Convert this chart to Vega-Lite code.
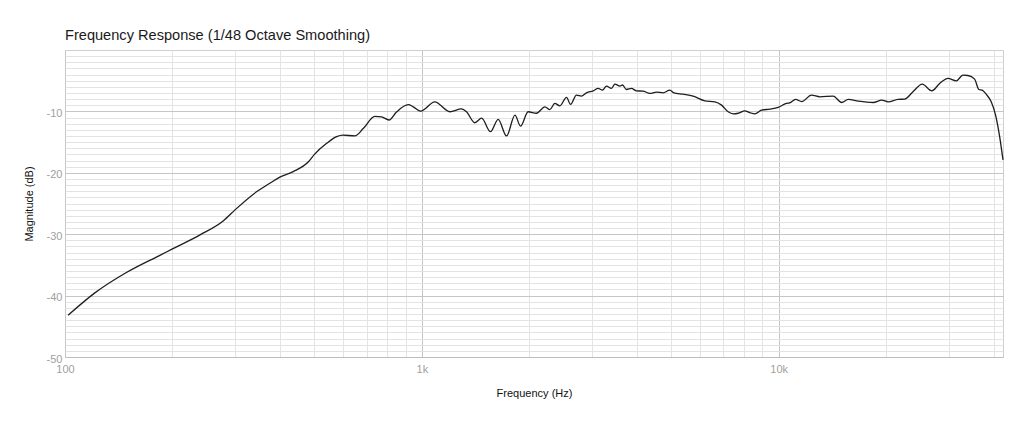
{
  "$schema": "https://vega.github.io/schema/vega-lite/v6.json",
  "width": 938,
  "height": 307,
  "autosize": {"type": "none"},
  "padding": {"left": 65, "top": 50, "right": 21, "bottom": 70},
  "background": "white",
  "title": {
    "text": "Frequency Response (1/48 Octave Smoothing)",
    "anchor": "start",
    "frame": "group",
    "font": "Liberation Sans",
    "fontSize": 14.6,
    "fontWeight": "normal",
    "color": "#1a1a1a",
    "offset": 7
  },
  "config": {
    "view": {"stroke": "#cfcfcf"},
    "axis": {
      "labelFont": "Liberation Sans",
      "titleFont": "Liberation Sans",
      "labelFontSize": 11,
      "titleFontSize": 11,
      "titleFontWeight": "normal",
      "titleColor": "#111111",
      "labelColor": "#a0a0a0",
      "labelFlush": false,
      "ticks": false
    }
  },
  "data": {
    "values": [
      {"f": 102, "db": -43.2}, {"f": 121, "db": -39.6}, {"f": 149, "db": -36.2},
      {"f": 185, "db": -33.4}, {"f": 200, "db": -32.4}, {"f": 239, "db": -30.1},
      {"f": 278, "db": -27.8}, {"f": 300, "db": -26.0}, {"f": 344, "db": -23.1},
      {"f": 375, "db": -21.7}, {"f": 400, "db": -20.7}, {"f": 436, "db": -19.8},
      {"f": 481, "db": -18.2}, {"f": 500, "db": -17.0}, {"f": 541, "db": -15.2},
      {"f": 577, "db": -14.1}, {"f": 600, "db": -13.85}, {"f": 649, "db": -14.0},
      {"f": 685, "db": -12.8}, {"f": 738, "db": -10.8}, {"f": 771, "db": -10.9},
      {"f": 809, "db": -11.4}, {"f": 849, "db": -10.1}, {"f": 916, "db": -8.9},
      {"f": 946, "db": -9.25}, {"f": 992, "db": -9.95}, {"f": 1087, "db": -8.44},
      {"f": 1198, "db": -10.06}, {"f": 1291, "db": -9.6}, {"f": 1334, "db": -10.06},
      {"f": 1407, "db": -11.85}, {"f": 1470, "db": -11.1}, {"f": 1557, "db": -13.3},
      {"f": 1636, "db": -11.3}, {"f": 1727, "db": -14.0}, {"f": 1823, "db": -10.6},
      {"f": 1890, "db": -12.4}, {"f": 1985, "db": -10.06}, {"f": 2095, "db": -10.3},
      {"f": 2212, "db": -9.25}, {"f": 2284, "db": -9.7}, {"f": 2358, "db": -8.7},
      {"f": 2436, "db": -9.1}, {"f": 2543, "db": -7.7}, {"f": 2610, "db": -8.87},
      {"f": 2711, "db": -7.35}, {"f": 2800, "db": -7.5}, {"f": 2893, "db": -6.97},
      {"f": 3020, "db": -6.65}, {"f": 3119, "db": -6.26}, {"f": 3207, "db": -6.54},
      {"f": 3290, "db": -5.89}, {"f": 3398, "db": -6.26}, {"f": 3475, "db": -5.56},
      {"f": 3589, "db": -5.89}, {"f": 3650, "db": -5.7}, {"f": 3743, "db": -6.43},
      {"f": 3866, "db": -6.26}, {"f": 3992, "db": -6.65}, {"f": 4166, "db": -6.7},
      {"f": 4353, "db": -7.07}, {"f": 4543, "db": -6.86}, {"f": 4743, "db": -6.97},
      {"f": 4950, "db": -6.54}, {"f": 5081, "db": -6.97}, {"f": 5396, "db": -7.2},
      {"f": 5756, "db": -7.5}, {"f": 6205, "db": -8.27}, {"f": 6620, "db": -8.44},
      {"f": 6915, "db": -8.98}, {"f": 7216, "db": -10.06}, {"f": 7452, "db": -10.39},
      {"f": 7698, "db": -10.3}, {"f": 8035, "db": -9.9}, {"f": 8299, "db": -10.2},
      {"f": 8570, "db": -10.4}, {"f": 8950, "db": -9.8}, {"f": 9443, "db": -9.63},
      {"f": 9960, "db": -9.35}, {"f": 10500, "db": -8.7}, {"f": 10730, "db": -8.6},
      {"f": 11150, "db": -8.05}, {"f": 11600, "db": -8.4}, {"f": 12350, "db": -7.35},
      {"f": 13040, "db": -7.62}, {"f": 14210, "db": -7.5}, {"f": 15000, "db": -8.55},
      {"f": 15660, "db": -8.05}, {"f": 16710, "db": -8.33}, {"f": 18400, "db": -8.55},
      {"f": 19430, "db": -8.16}, {"f": 20250, "db": -8.44}, {"f": 21590, "db": -8.05},
      {"f": 22540, "db": -8.0}, {"f": 23770, "db": -6.8}, {"f": 25240, "db": -5.56},
      {"f": 26850, "db": -6.65}, {"f": 28240, "db": -5.45}, {"f": 29790, "db": -4.63},
      {"f": 31440, "db": -5.02}, {"f": 32810, "db": -4.1}, {"f": 33890, "db": -4.15},
      {"f": 35390, "db": -4.75}, {"f": 36380, "db": -6.43}, {"f": 37170, "db": -6.54},
      {"f": 38130, "db": -7.2}, {"f": 39390, "db": -8.44}, {"f": 40510, "db": -10.6},
      {"f": 41590, "db": -14.1}, {"f": 42500, "db": -17.9}
    ]
  },
  "layer": [
    {
      "mark": {"type": "line", "opacity": 0},
      "encoding": {
        "x": {
          "field": "f",
          "type": "quantitative",
          "scale": {"type": "log", "domain": [100, 42500], "nice": false},
          "axis": {
            "orient": "top",
            "values": [200, 300, 400, 500, 600, 700, 800, 900, 2000, 3000, 4000, 5000, 6000, 7000, 8000, 9000, 20000, 30000, 40000],
            "grid": true,
            "gridColor": "#e3e3e3",
            "labels": false,
            "domain": false,
            "title": null
          }
        },
        "y": {
          "field": "db",
          "type": "quantitative",
          "scale": {"domain": [-50, 0], "nice": false},
          "axis": {
            "orient": "right",
            "values": [-49, -48, -47, -46, -45, -44, -43, -42, -41, -39, -38, -37, -36, -35, -34, -33, -32, -31, -29, -28, -27, -26, -25, -24, -23, -22, -21, -19, -18, -17, -16, -15, -14, -13, -12, -11, -9, -8, -7, -6, -5, -4, -3, -2, -1],
            "grid": true,
            "gridColor": "#e3e3e3",
            "labels": false,
            "domain": false,
            "title": null
          }
        }
      }
    },
    {
      "mark": {"type": "line", "color": "#1e1e1e", "strokeWidth": 1.3, "interpolate": "monotone"},
      "encoding": {
        "x": {
          "field": "f",
          "type": "quantitative",
          "scale": {"type": "log", "domain": [100, 42500], "nice": false},
          "axis": {
            "orient": "bottom",
            "values": [100, 1000, 10000],
            "labelExpr": "datum.value >= 1000 ? (datum.value / 1000) + 'k' : datum.value + ''",
            "grid": true,
            "gridColor": "#c6c6c6",
            "domain": true,
            "domainColor": "#bdbdbd",
            "labelPadding": 6,
            "title": "Frequency (Hz)",
            "titlePadding": 13
          }
        },
        "y": {
          "field": "db",
          "type": "quantitative",
          "scale": {"domain": [-50, 0], "nice": false},
          "axis": {
            "orient": "left",
            "values": [-50, -40, -30, -20, -10],
            "labelExpr": "datum.value + ''",
            "grid": true,
            "gridColor": "#c6c6c6",
            "domain": false,
            "labelPadding": 3,
            "labelOffset": 2,
            "title": "Magnitude (dB)",
            "titlePadding": 12
          }
        }
      }
    }
  ],
  "resolve": {"axis": {"x": "independent", "y": "independent"}}
}
